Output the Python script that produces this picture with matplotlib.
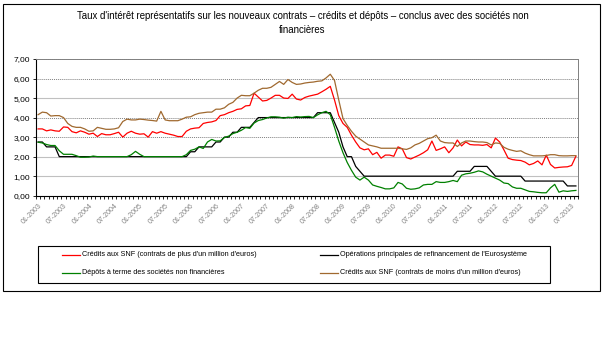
import numpy as np
import matplotlib.pyplot as plt
from matplotlib.patches import Rectangle
from matplotlib.lines import Line2D

plt.rcParams['font.family'] = ['Liberation Sans', 'DejaVu Sans']

# monthly categories, Jan 2003 - Aug 2013
months = [f'{m:02d}-{y}' for y in range(2003, 2014) for m in range(1, 13)][:128]

# Crédits aux SNF (contrats de plus d'un million d'euros)
credits_plus = [
    3.42, 3.42, 3.32, 3.37, 3.32, 3.30, 3.52, 3.50, 3.28, 3.22, 3.32, 3.25,
    3.15, 3.20, 3.03, 3.18, 3.12, 3.12, 3.18, 3.25, 3.00, 3.20, 3.30, 3.20,
    3.15, 3.17, 3.00, 3.28, 3.20, 3.28, 3.20, 3.15, 3.10, 3.03, 3.03, 3.30,
    3.42, 3.46, 3.48, 3.70, 3.75, 3.78, 3.85, 4.10, 4.15, 4.25, 4.32, 4.42,
    4.45, 4.60, 4.62, 5.25, 5.05, 4.85, 4.88, 5.00, 5.14, 5.14, 5.00, 4.98,
    5.20, 4.95, 4.90, 5.03, 5.10, 5.15, 5.20, 5.32, 5.45, 5.60, 4.90, 4.10,
    3.70, 3.50, 3.10, 2.75, 2.45, 2.35, 2.40, 2.10, 2.22, 1.92, 2.08, 2.08,
    2.02, 2.50, 2.40, 1.95, 1.88, 1.98, 2.08, 2.20, 2.35, 2.80, 2.32, 2.40,
    2.50, 2.20, 2.45, 2.85, 2.55, 2.75, 2.62, 2.60, 2.60, 2.58, 2.62, 2.45,
    2.95, 2.75, 2.35, 1.92, 1.85, 1.82, 1.80, 1.72, 1.58, 1.65, 1.78, 1.58,
    2.08, 1.60, 1.42, 1.45, 1.47, 1.48, 1.55, 2.02,
]

# Opérations principales de refinancement de l'Eurosystème
refi = [
    2.75, 2.75, 2.50, 2.50, 2.50, 2.00, 2.00, 2.00, 2.00, 2.00, 2.00, 2.00,
    2.00, 2.00, 2.00, 2.00, 2.00, 2.00, 2.00, 2.00, 2.00, 2.00, 2.00, 2.00,
    2.00, 2.00, 2.00, 2.00, 2.00, 2.00, 2.00, 2.00, 2.00, 2.00, 2.00, 2.00,
    2.25, 2.25, 2.50, 2.50, 2.50, 2.50, 2.75, 2.75, 3.00, 3.00, 3.25, 3.25,
    3.50, 3.50, 3.50, 3.75, 4.00, 4.00, 4.00, 4.00, 4.00, 4.00, 4.00, 4.00,
    4.00, 4.00, 4.00, 4.00, 4.00, 4.00, 4.25, 4.25, 4.25, 4.25, 3.75, 3.25,
    2.50, 2.00, 2.00, 1.50, 1.25, 1.00, 1.00, 1.00, 1.00, 1.00, 1.00, 1.00,
    1.00, 1.00, 1.00, 1.00, 1.00, 1.00, 1.00, 1.00, 1.00, 1.00, 1.00, 1.00,
    1.00, 1.00, 1.00, 1.25, 1.25, 1.25, 1.25, 1.50, 1.50, 1.50, 1.50, 1.25,
    1.00, 1.00, 1.00, 1.00, 1.00, 1.00, 1.00, 0.75, 0.75, 0.75, 0.75, 0.75,
    0.75, 0.75, 0.75, 0.75, 0.75, 0.50, 0.50, 0.50,
]

# Dépôts à terme des sociétés non financières
depots = [
    2.74, 2.70, 2.62, 2.57, 2.57, 2.30, 2.12, 2.12, 2.12, 2.05, 1.97, 1.97,
    1.98, 2.03, 2.00, 2.00, 2.00, 2.00, 2.00, 2.00, 2.00, 2.00, 2.10, 2.27,
    2.12, 2.00, 2.00, 2.00, 2.00, 2.00, 2.00, 2.00, 2.00, 2.00, 2.00, 2.10,
    2.32, 2.38, 2.50, 2.42, 2.75, 2.88, 2.80, 2.81, 2.98, 3.05, 3.18, 3.25,
    3.35, 3.49, 3.45, 3.72, 3.85, 3.90, 3.98, 4.04, 4.04, 4.02, 3.97, 4.02,
    4.00, 4.05, 4.03, 4.05, 4.06, 4.00, 4.14, 4.25, 4.32, 4.15, 3.50, 2.80,
    2.20, 1.70, 1.30, 0.95, 0.80, 0.95, 0.80, 0.55, 0.48, 0.42, 0.35, 0.35,
    0.40, 0.68, 0.60, 0.38, 0.33, 0.35, 0.40, 0.55, 0.58, 0.58, 0.72, 0.68,
    0.68, 0.72, 0.78, 0.72, 1.05, 1.12, 1.15, 1.20, 1.27, 1.22, 1.10, 1.00,
    0.90, 0.80, 0.65, 0.62, 0.45, 0.38, 0.38, 0.30, 0.22, 0.20, 0.17, 0.15,
    0.15, 0.40, 0.58, 0.18, 0.25, 0.22, 0.25, 0.27,
]

# Crédits aux SNF (contrats de moins d'un million d'euros)
credits_moins = [
    4.15, 4.28, 4.25, 4.08, 4.10, 4.10, 4.00, 3.70, 3.55, 3.50, 3.50, 3.42,
    3.30, 3.32, 3.50, 3.45, 3.40, 3.40, 3.42, 3.48, 3.80, 3.92, 3.88, 3.88,
    3.92, 3.90, 3.87, 3.85, 3.82, 4.32, 3.88, 3.84, 3.84, 3.84, 3.92, 4.02,
    4.04, 4.15, 4.22, 4.25, 4.28, 4.28, 4.43, 4.43, 4.50, 4.68, 4.78, 5.00,
    5.14, 5.12, 5.12, 5.25, 5.40, 5.50, 5.50, 5.55, 5.70, 5.85, 5.70, 5.95,
    5.80, 5.70, 5.72, 5.77, 5.80, 5.82, 5.86, 5.88, 6.03, 6.22, 5.90, 4.90,
    3.95, 3.60, 3.30, 3.05, 2.90, 2.75, 2.60, 2.55, 2.50, 2.43, 2.43, 2.43,
    2.43, 2.43, 2.40, 2.37, 2.45, 2.60, 2.68, 2.80, 2.92, 2.97, 3.10, 2.80,
    2.72, 2.70, 2.70, 2.52, 2.70, 2.80, 2.80, 2.77, 2.75, 2.75, 2.72, 2.60,
    2.70, 2.68, 2.48, 2.38, 2.32, 2.27, 2.30, 2.18, 2.10, 2.04, 2.04, 2.04,
    2.06, 2.10, 2.10, 2.05, 2.04, 2.04, 2.05, 2.05,
]

labels = [
    "Crédits aux SNF (contrats de plus d'un million d'euros)",
    "Dépôts à terme des sociétés non financières",
    "Opérations principales de refinancement de l'Eurosystème",
    "Crédits aux SNF (contrats de moins d'un million d'euros)",
]
colors = ['#ff0000', '#008000', '#000000', '#a0692f']

W, H = 605, 338


def fx(px):
    return px / W


def fy(py):
    return 1 - py / H


fig = plt.figure(figsize=(W / 100, H / 100), dpi=100)

# outer chart frame
fig.add_artist(Rectangle((fx(3), fy(291)), fx(597), 287 / H, transform=fig.transFigure,
                         fill=False, edgecolor='black', linewidth=0.8))

fig.text(0.5, fy(16), "Taux d'intérêt représentatifs sur les nouveaux contrats – crédits et dépôts – "
         "conclus avec des sociétés non", ha='center', va='center', fontsize=6.9)
fig.text(0.5, fy(30), "financières", ha='center', va='center', fontsize=6.9)

ax = fig.add_axes([fx(36), fy(195.7), 542 / W, 136.7 / H])
x = np.arange(len(months))

# gridlines (alternating look of the original)
for v in range(1, 8):
    if v in (3, 4, 6, 7):
        ax.axhline(v, color='#808080', lw=0.7, ls=(0, (1, 1)), zorder=0)
    else:
        ax.axhline(v, color='#c0c0c0', lw=0.8, zorder=0)

ax.plot(x, credits_plus, color=colors[0], lw=0.9)
ax.plot(x, refi, color=colors[2], lw=0.9)
ax.plot(x, depots, color=colors[1], lw=0.9)
ax.plot(x, credits_moins, color=colors[3], lw=0.9)

ax.set_xlim(-0.5, len(months) - 0.5)
ax.set_ylim(0, 7)
ax.set_yticks(range(0, 8))
ax.set_yticklabels([f'{v},00' for v in range(0, 8)], fontsize=6)
ax.set_xticks(x[::6])
ax.set_xticklabels(months[::6], rotation=45, ha='right', rotation_mode='anchor',
                   fontsize=5, color='#808080')
ax.set_xticks(np.arange(-0.5, len(months), 1), minor=True)
ax.tick_params(axis='x', which='major', length=0, pad=5)
ax.tick_params(axis='x', which='minor', length=2.5, width=0.6, direction='out')
ax.tick_params(axis='y', length=2.5, width=0.6, pad=1.5)

for s in ('top', 'right'):
    ax.spines[s].set_color('#808080')
    ax.spines[s].set_linestyle((0, (1, 1)))
    ax.spines[s].set_linewidth(0.7)
ax.spines['left'].set_linewidth(0.8)
ax.spines['bottom'].set_linewidth(0.8)

# legend box
fig.add_artist(Rectangle((fx(38), fy(283)), 512 / W, 37 / H, transform=fig.transFigure,
                         fill=False, edgecolor='black', linewidth=0.8))
pos = [(62, 255), (62, 273), (320, 255), (320, 273)]
for (px, py), lab, c in zip(pos, labels, colors):
    fig.add_artist(Line2D([fx(px), fx(px + 18)], [fy(py), fy(py)], transform=fig.transFigure,
                          color=c, lw=0.9))
    fig.text(fx(px + 20), fy(py), lab, ha='left', va='center', fontsize=5.2)

fig.savefig('out.png', dpi=100)
